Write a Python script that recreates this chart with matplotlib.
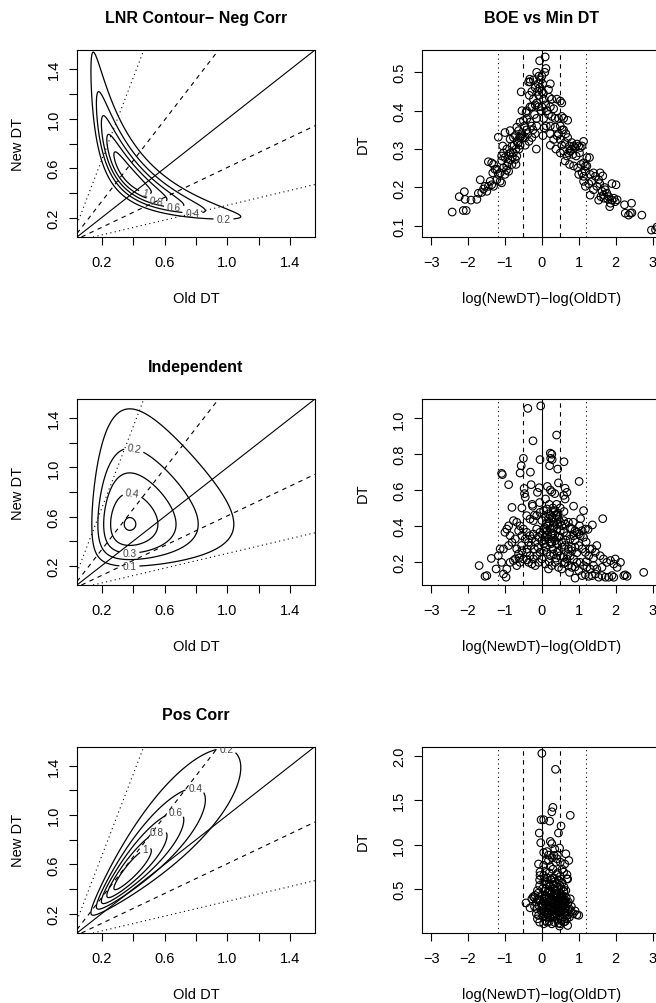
import numpy as np
import matplotlib
matplotlib.use("Agg")
import matplotlib.pyplot as plt

plt.rcParams['font.family'] = ['Liberation Sans', 'DejaVu Sans']

# Log-normal race parameters (log scale) used for the contour panels
mean_log_old = -0.97
mean_log_new = -0.62
sd_log = 0.56
panel_rho = [-0.9, 0.0, 0.9]
panel_titles = ["LNR Contour\u2212 Neg Corr", "Independent", "Pos Corr"]
panel_levels = [[0.2, 0.4, 0.6, 0.8, 1.0],
                [0.1, 0.2, 0.3, 0.4, 0.5],
                [0.2, 0.4, 0.6, 0.8, 1.0]]
# where the contour labels sit (Old DT, New DT)
label_spots = [
    [(0.475, 0.41), (0.548, 0.34), (0.66, 0.285), (0.777, 0.238), (0.975, 0.193)],
    [(0.402, 1.124), (0.392, 0.765), (0.377, 0.308), (0.377, 0.20)],
    [(0.99, 1.50), (0.794, 1.178), (0.673, 0.981), (0.565, 0.825), (0.485, 0.70)],
]
label_flat = [False, False, True]
ratio_logs = [0.0, 0.5, -0.5, 1.2, -1.2]

# Scatter: BOE = log(NewDT)-log(OldDT), DT = min DT
neg_boe = [-2.43, -2.13, -2.05, -2.24, -2.10, -2.08, -1.92, -1.76, -1.72, -1.67, -1.58, -1.54, -1.49, -1.63,
           -1.45, -1.36, -1.31, -1.33, -1.27, -1.40, -1.31, -1.18, -1.22, -1.13, -1.09, -1.09, -1.04, -1.06,
           -1.0, -1.45, -1.36, -1.18, -1.13, -1.22, -1.0, -1.04, -0.95, -0.90, -0.81, -0.86, -0.72, -0.68,
           -0.77, -0.90, -0.95, -0.81, -0.86, -1.0, -1.09, -0.92, -0.85, -0.75, -0.70, -0.65, -0.60, -0.55,
           -0.50, -0.45, -0.59, -0.45, -0.35, -0.27, -0.15, -0.18, -0.24, -0.14, -0.32, -0.41, -0.54, -0.60,
           -0.68, -0.72, -0.77, -0.86, -0.63, -0.59, -0.68, -0.50, -0.41, -0.14, 0.05, -0.54, -0.41, -0.32,
           -0.43, -0.27, -0.18, -0.09, 0.0, -0.23, -0.14, -0.34, -0.56, -0.27, -0.12, -0.18, -0.32, -0.36,
           -0.33, -0.23, -0.14, -0.06, 0.09, 0.11, -0.08, -0.03, 0.02, -0.05, 0.0, -0.08, 0.04, 0.05,
           0.10, 0.14, 0.18, 0.23, 0.27, 0.41, 0.50, 0.54, 0.23, 0.32, 0.18, 0.27, 0.36, 0.45,
           0.54, 0.59, 0.70, 0.23, 0.36, 0.50, 0.59, 0.23, 0.32, 0.41, 0.23, 0.50, 0.54, 0.59,
           0.50, 0.63, 0.70, 0.75, 0.81, 0.86, 0.90, 0.95, 1.0, 1.04, 1.09, 1.13, 1.02, 0.93,
           0.84, 0.77, 0.68, 0.63, 0.75, 0.86, 0.97, 1.06, 1.13, 1.18, 1.09, 1.0, 1.13, 1.18,
           1.22, 1.13, 1.18, 1.27, 1.29, 1.22, 1.31, 1.40, 1.49, 1.54, 1.58, 1.57, 1.63, 1.67,
           1.72, 1.76, 1.81, 1.60, 1.54, 1.86, 1.84, 1.90, 1.95, 1.99, 1.90, 2.01, 2.04, 2.24,
           2.26, 2.35, 2.40, 2.43, 2.44, 2.71, 2.97, 3.08, 3.12, 1.40, 1.45, 1.31, 1.36, 1.65,
           1.70, 1.78, 1.68, 0.55, 0.45, 0.38, 0.65, 0.80, 0.72, -0.02, 0.12, 0.20, 0.08, 0.0,
           -0.10, -0.20, -0.28, -0.38, -0.47, -0.62, -0.80, -0.96, -0.70, 0.03, 0.06]
neg_dt = [0.136, 0.14, 0.14, 0.176, 0.189, 0.169, 0.167, 0.169, 0.185, 0.22, 0.196, 0.203, 0.19, 0.187,
          0.267, 0.264, 0.26, 0.238, 0.247, 0.216, 0.203, 0.331, 0.22, 0.216, 0.212, 0.282, 0.29, 0.308,
          0.343, 0.203, 0.207, 0.234, 0.238, 0.247, 0.234, 0.251, 0.256, 0.242, 0.26, 0.273, 0.273, 0.282,
          0.29, 0.286, 0.30, 0.308, 0.326, 0.278, 0.27, 0.265, 0.29, 0.31, 0.30, 0.315, 0.33, 0.335,
          0.33, 0.33, 0.31, 0.31, 0.32, 0.33, 0.30, 0.34, 0.35, 0.36, 0.37, 0.35, 0.34, 0.33,
          0.32, 0.335, 0.33, 0.348, 0.348, 0.37, 0.357, 0.374, 0.379, 0.38, 0.38, 0.40, 0.40, 0.41,
          0.395, 0.41, 0.415, 0.41, 0.41, 0.43, 0.42, 0.44, 0.449, 0.45, 0.45, 0.46, 0.475, 0.475,
          0.482, 0.48, 0.50, 0.53, 0.54, 0.51, 0.49, 0.48, 0.47, 0.46, 0.45, 0.44, 0.445, 0.43,
          0.415, 0.40, 0.455, 0.47, 0.43, 0.43, 0.425, 0.42, 0.41, 0.405, 0.39, 0.385, 0.38, 0.38,
          0.385, 0.38, 0.375, 0.36, 0.357, 0.36, 0.35, 0.34, 0.325, 0.335, 0.31, 0.325, 0.31, 0.295,
          0.29, 0.317, 0.33, 0.308, 0.317, 0.308, 0.304, 0.313, 0.308, 0.304, 0.308, 0.32, 0.29, 0.282,
          0.286, 0.295, 0.282, 0.269, 0.26, 0.256, 0.251, 0.26, 0.264, 0.256, 0.238, 0.234, 0.229, 0.242,
          0.278, 0.216, 0.203, 0.21, 0.278, 0.256, 0.18, 0.194, 0.203, 0.22, 0.238, 0.21, 0.19, 0.18,
          0.194, 0.185, 0.176, 0.176, 0.167, 0.159, 0.15, 0.167, 0.172, 0.163, 0.21, 0.207, 0.168, 0.155,
          0.133, 0.128, 0.133, 0.159, 0.134, 0.128, 0.089, 0.09, 0.097, 0.238, 0.229, 0.234, 0.216, 0.23,
          0.20, 0.17, 0.172, 0.35, 0.34, 0.30, 0.34, 0.30, 0.29, 0.40, 0.36, 0.435, 0.50, 0.49,
          0.47, 0.39, 0.36, 0.34, 0.36, 0.30, 0.28, 0.245, 0.26, 0.335, 0.355]

ind_boe = [-0.03, -0.38, -0.24, 0.40, -0.50, -0.05, -0.56, -0.31, -0.59, -1.09, -1.07, -0.90, -0.81, 0.23,
           0.27, 0.24, 0.21, 0.28, 0.43, 0.60, 0.45, 1.01, -0.29, -0.48, -0.07, -0.12, -0.47, -0.45,
           -0.26, -0.25, -0.54, -0.06, 0.23, 0.27, 0.63, 0.68, 0.59, 0.63, 0.86, 1.13, 1.02, 1.37,
           1.65, -0.41, -0.32, -0.23, -0.14, -0.05, 0.05, 0.14, 0.18, 0.23, 0.27, 0.32, 0.36, 0.41,
           0.45, 0.50, 0.54, 0.59, 0.63, 0.72, 0.77, 0.81, 0.90, 0.95, 1.0, 1.04, 1.09, 1.13,
           1.18, 0.86, 0.77, 0.68, 0.59, 0.50, 0.41, 0.32, 0.23, 0.14, 0.05, -0.05, -0.14, -0.23,
           -0.32, -0.41, -0.50, -0.59, -0.63, -0.54, -0.45, -0.36, -0.27, -0.18, -0.09, 0.0, 0.09, 0.18,
           0.27, 0.36, 0.45, 0.54, 0.63, 0.72, 0.81, 0.90, 1.0, 1.09, 1.18, 1.27, 1.36, 1.45,
           1.49, 1.58, 1.67, 1.76, 1.86, 1.95, 2.04, 1.99, 2.13, 2.22, 2.26, 1.95, 1.90, 1.81,
           1.72, 1.63, 1.54, 1.45, 1.36, 1.27, 1.18, 1.09, 1.0, 0.90, 0.81, 0.72, 0.63, 0.54,
           0.45, 0.36, 0.27, 0.18, 0.09, 0.0, -0.09, -0.18, -0.27, -0.36, -0.50, -0.59, -0.68, -0.77,
           -0.86, -0.95, -1.04, -1.09, -1.13, -1.18, -1.04, -0.90, -0.81, -0.72, -0.68, -0.72, -0.63, -0.54,
           -0.41, -0.32, -0.23, -0.14, -0.05, 0.05, 0.14, 0.23, 0.32, 0.41, 0.50, 0.59, 0.68, 0.77,
           0.86, 0.95, 1.04, 1.13, 1.22, 1.31, 1.40, 1.49, 1.63, -0.97, -1.24, -1.49, -1.54, -1.70,
           -1.37, -1.0, -0.95, -0.90, -0.86, -0.77, -0.68, 2.31, 2.76, 0.10, 0.20, 0.30, 0.15, 0.25,
           0.35, 0.40, 0.05, 0.12, 0.30, 0.45, 0.20, 0.38, 0.55, 0.65, 0.80, 0.90, 0.95, 0.70,
           0.30, 0.20, 0.10, 0.40, 0.0, -0.10, -0.20, -0.30, -0.40, 0.60, 0.50, 0.15, 0.35, -0.20,
           0.25, 0.32, 0.42, 0.48, 0.12, 0.02, -0.55, -0.62, -0.40, 0.60, 0.75, 0.90, 1.20, 1.30,
           0.85, 1.05, 1.20, 1.40, 1.25, 0.08, 0.18, 0.28, 0.38, 0.22, 0.33, 0.44, 0.07, 0.16]
ind_dt = [1.07, 1.056, 0.875, 0.907, 0.777, 0.77, 0.736, 0.70, 0.695, 0.693, 0.686, 0.63, 0.503, 0.806,
          0.80, 0.777, 0.736, 0.77, 0.717, 0.758, 0.64, 0.648, 0.63, 0.609, 0.613, 0.587, 0.58, 0.56,
          0.52, 0.51, 0.50, 0.53, 0.60, 0.59, 0.61, 0.587, 0.57, 0.55, 0.51, 0.485, 0.40, 0.405,
          0.44, 0.457, 0.438, 0.429, 0.457, 0.475, 0.485, 0.494, 0.466, 0.457, 0.447, 0.475, 0.485, 0.457,
          0.438, 0.42, 0.40, 0.429, 0.41, 0.42, 0.39, 0.382, 0.373, 0.364, 0.354, 0.345, 0.373, 0.336,
          0.382, 0.345, 0.327, 0.345, 0.364, 0.373, 0.382, 0.39, 0.382, 0.373, 0.382, 0.364, 0.382, 0.354,
          0.345, 0.364, 0.382, 0.40, 0.373, 0.345, 0.327, 0.308, 0.327, 0.308, 0.336, 0.317, 0.336, 0.327,
          0.308, 0.317, 0.336, 0.308, 0.29, 0.271, 0.261, 0.28, 0.29, 0.271, 0.252, 0.233, 0.271, 0.252,
          0.29, 0.233, 0.215, 0.196, 0.206, 0.187, 0.168, 0.215, 0.196, 0.122, 0.126, 0.113, 0.122, 0.113,
          0.113, 0.122, 0.113, 0.131, 0.122, 0.118, 0.127, 0.122, 0.15, 0.108, 0.168, 0.178, 0.196, 0.159,
          0.168, 0.196, 0.178, 0.159, 0.187, 0.215, 0.196, 0.178, 0.187, 0.196, 0.215, 0.196, 0.178, 0.206,
          0.196, 0.159, 0.131, 0.196, 0.271, 0.233, 0.271, 0.29, 0.308, 0.327, 0.271, 0.215, 0.243, 0.261,
          0.252, 0.233, 0.215, 0.233, 0.252, 0.261, 0.252, 0.233, 0.243, 0.252, 0.233, 0.224, 0.215, 0.233,
          0.215, 0.196, 0.196, 0.178, 0.168, 0.159, 0.178, 0.159, 0.168, 0.113, 0.159, 0.122, 0.118, 0.178,
          0.218, 0.364, 0.382, 0.40, 0.345, 0.429, 0.42, 0.118, 0.14, 0.45, 0.42, 0.40, 0.35, 0.30,
          0.35, 0.30, 0.30, 0.28, 0.27, 0.26, 0.20, 0.22, 0.28, 0.32, 0.28, 0.32, 0.25, 0.24,
          0.50, 0.52, 0.55, 0.52, 0.43, 0.28, 0.27, 0.29, 0.27, 0.48, 0.50, 0.62, 0.58, 0.46,
          0.35, 0.33, 0.41, 0.34, 0.41, 0.35, 0.29, 0.22, 0.21, 0.19, 0.14, 0.17, 0.20, 0.27,
          0.42, 0.44, 0.31, 0.22, 0.38, 0.39, 0.44, 0.36, 0.46, 0.31, 0.42, 0.47, 0.32, 0.40]

pos_boe = [0.0, 0.37, 0.30, 0.27, 0.77, -0.02, 0.05, 0.21, 0.52, 0.45, -0.07, -0.03, 0.48, 0.23,
           0.27, 0.05, 0.14, 0.65, 0.73, 0.62, -0.09, -0.05, -0.06, 0.70, -0.23, -0.20, -0.43, -0.32,
           0.95, 1.0, 0.05, 0.48, 0.70, -0.12, -0.27, -0.18, -0.14, -0.09, -0.06, 0.63, 0.72, 0.77,
           0.68, 0.59, 0.50, 0.27, 0.14, 0.68, 0.59, 0.50, 0.41, 0.33, 0.18, 0.05, -0.05, -0.06,
           -0.12, -0.15, 0.10, 0.20, 0.30, 0.40, 0.50, 0.15, 0.25, 0.35, 0.45, 0.55, 0.05, 0.12,
           0.22, 0.32, 0.42, 0.52, 0.60, 0.02, 0.08, 0.18, 0.28, 0.38, 0.48, 0.58, 0.66, 0.00,
           0.10, 0.20, 0.30, 0.40, 0.50, 0.60, 0.70, -0.05, 0.05, 0.15, 0.25, 0.35, 0.45, 0.55,
           0.65, 0.75, -0.08, 0.02, 0.12, 0.22, 0.32, 0.42, 0.52, 0.62, 0.72, -0.02, 0.08, 0.18,
           0.28, 0.38, 0.48, 0.58, 0.68, 0.03, 0.13, 0.23, 0.33, 0.43, 0.53, 0.63, 0.20, 0.35,
           0.45, 0.10, 0.25, 0.35, 0.15, 0.45, 0.30, 0.40, 0.20, 0.10, 0.50, 0.27, 0.37, 0.47,
           0.17, 0.57, 0.33, 0.43, 0.23, 0.38, 0.28, 0.18, 0.12, 0.05, 0.60, 0.65, -0.10, -0.12,
           0.36, 0.26, 0.16, 0.06, 0.44, 0.54, 0.62, 0.70, 0.78, 0.80, 0.85, 0.90, -0.15, -0.20,
           0.35, 0.42, 0.55, 0.68, 0.62, 0.75,
           0.07, 0.17, 0.27, 0.37, 0.47, 0.57, 0.11, 0.21, 0.31, 0.41, 0.51, 0.61, 0.04, 0.14,
           0.24, 0.34, 0.44, 0.54, 0.64, 0.09, 0.19, 0.29, 0.39, 0.49, 0.59, 0.01, 0.16, 0.26,
           0.36, 0.46, 0.56, 0.13, 0.23, 0.33, 0.43, 0.53, 0.06, 0.31, 0.41, 0.21]
pos_dt = [2.03, 1.85, 1.42, 1.37, 1.33, 1.28, 1.28, 1.265, 1.21, 1.13, 1.13, 1.02, 0.96, 1.035,
          1.01, 0.91, 0.92, 0.895, 0.82, 0.78, 0.78, 0.69, 0.60, 0.61, 0.41, 0.40, 0.34, 0.285,
          0.206, 0.20, 0.104, 0.078, 0.085, 0.16, 0.386, 0.424, 0.274, 0.198, 0.123, 0.274, 0.349, 0.386,
          0.198, 0.123, 0.104, 0.104, 0.123, 0.613, 0.688, 0.801, 0.839, 0.877, 0.82, 0.764, 0.65, 0.537,
          0.48, 0.349, 0.70, 0.68, 0.72, 0.66, 0.64, 0.62, 0.60, 0.58, 0.60, 0.57, 0.58, 0.55,
          0.53, 0.55, 0.52, 0.50, 0.47, 0.50, 0.47, 0.48, 0.46, 0.48, 0.45, 0.42, 0.40, 0.43,
          0.42, 0.40, 0.42, 0.40, 0.38, 0.36, 0.33, 0.37, 0.36, 0.35, 0.37, 0.34, 0.33, 0.31,
          0.29, 0.27, 0.31, 0.30, 0.29, 0.31, 0.28, 0.27, 0.25, 0.23, 0.21, 0.25, 0.24, 0.23,
          0.25, 0.22, 0.20, 0.18, 0.16, 0.19, 0.18, 0.17, 0.19, 0.16, 0.14, 0.13, 0.13, 0.12,
          0.11, 0.14, 0.44, 0.40, 0.45, 0.38, 0.33, 0.30, 0.28, 0.33, 0.28, 0.21, 0.26, 0.23,
          0.20, 0.34, 0.62, 0.68, 0.75, 0.80, 0.85, 0.88, 0.82, 0.65, 0.52, 0.48, 0.45, 0.38,
          0.45, 0.39, 0.26, 0.40, 0.36, 0.42, 0.38, 0.27, 0.24, 0.30, 0.22, 0.25, 0.22, 0.30,
          0.95, 0.88, 0.72, 0.66, 0.20, 0.18,
          0.39, 0.35, 0.29, 0.36, 0.31, 0.26, 0.50, 0.46, 0.50, 0.45, 0.41, 0.34, 0.27, 0.22,
          0.26, 0.21, 0.25, 0.29, 0.35, 0.59, 0.55, 0.62, 0.56, 0.54, 0.47, 0.33, 0.31, 0.34,
          0.43, 0.28, 0.37, 0.40, 0.48, 0.44, 0.34, 0.32, 0.22, 0.18, 0.24, 0.36]

scatter_sets = [(neg_boe, neg_dt, "BOE vs Min DT"),
                (ind_boe, ind_dt, ""),
                (pos_boe, pos_dt, "")]
dt_ticks = [[0.1, 0.2, 0.3, 0.4, 0.5],
            [0.2, 0.4, 0.6, 0.8, 1.0],
            [0.5, 1.0, 1.5, 2.0]]

grid_ticks = [0.2, 0.4, 0.6, 0.8, 1.0, 1.2, 1.4]
grid_labels = ["0.2", "", "0.6", "", "1.0", "", "1.4"]
boe_ticks = [-3, -2, -1, 0, 1, 2, 3]


def lnr_density(old, new, rho):
    a = (np.log(old) - mean_log_old) / sd_log
    b = (np.log(new) - mean_log_new) / sd_log
    q = (a**2 - 2 * rho * a * b + b**2) / (1 - rho**2)
    return np.exp(-q / 2) / (2 * np.pi * sd_log**2 * np.sqrt(1 - rho**2))


def style_axes(ax):
    for s in ax.spines.values():
        s.set_linewidth(0.8)
    ax.tick_params(direction="out", length=5.8, width=0.8, labelsize=10.5)
    ax.tick_params(axis="x", pad=7.5)
    ax.tick_params(axis="y", pad=6)


fig = plt.figure(figsize=(6.56, 10.04), dpi=100)
W, H = 656.0, 1004.0
rows_px = [(51, 238), (400, 586), (747.5, 934)]
left_px = (77, 315)
right_px = (422.3, 661.4)

lim = (0.044, 1.556)
g = np.linspace(lim[0], lim[1], 400)
GX, GY = np.meshgrid(g, g)

for i, (top, bot) in enumerate(rows_px):
    # contour panel
    ax = fig.add_axes([left_px[0] / W, 1 - bot / H, (left_px[1] - left_px[0]) / W, (bot - top) / H])
    Z = lnr_density(GX, GY, panel_rho[i])
    cs = ax.contour(GX, GY, Z, levels=panel_levels[i], colors="black", linewidths=0.9)
    texts = ax.clabel(cs, inline=True, fontsize=7.3, colors="#444444", fmt=lambda v: f"{v:g}",
                      manual=label_spots[i], inline_spacing=3)
    if label_flat[i]:
        for t in texts:
            t.set_rotation(0)
    for k in ratio_logs:
        ls = "-" if k == 0 else ((0, (4, 4)) if abs(k) == 0.5 else (0, (1, 3)))
        ax.axline((0, 0), slope=np.exp(k), color="black", lw=0.8, linestyle=ls)
    ax.set_xlim(lim)
    ax.set_ylim(lim)
    ax.set_xticks(grid_ticks)
    ax.set_xticklabels(grid_labels)
    ax.set_yticks(grid_ticks)
    ax.set_yticklabels(grid_labels, rotation=90, va="center")
    style_axes(ax)
    ax.set_title(panel_titles[i], fontsize=11.5, fontweight="bold", pad=20)
    ax.set_xlabel("Old DT", fontsize=10.5)
    ax.set_ylabel("New DT", fontsize=10.5)
    ax.xaxis.set_label_coords(0.5, -0.29)
    ax.yaxis.set_label_coords(-0.22, 0.5)

    # scatter panel
    bx, dt, title = scatter_sets[i]
    ax2 = fig.add_axes([right_px[0] / W, 1 - bot / H, (right_px[1] - right_px[0]) / W, (bot - top) / H])
    ax2.scatter(bx, dt, s=30, facecolors="none", edgecolors="black", linewidths=0.8)
    ax2.axvline(0, color="black", lw=0.8)
    for k in [-0.5, 0.5]:
        ax2.axvline(k, color="black", lw=0.8, linestyle=(0, (4, 4)))
    for k in [-1.2, 1.2]:
        ax2.axvline(k, color="black", lw=0.8, linestyle=(0, (1, 3)))
    lo, hi = min(dt), max(dt)
    pad = 0.04 * (hi - lo)
    ax2.set_ylim(lo - pad, hi + pad)
    ax2.set_xlim(-3.24, 3.24)
    ax2.set_xticks(boe_ticks)
    ax2.set_yticks(dt_ticks[i])
    ax2.set_yticklabels([f"{t:.1f}" for t in dt_ticks[i]], rotation=90, va="center")
    style_axes(ax2)
    if title:
        ax2.set_title(title, fontsize=11.5, fontweight="bold", pad=20)
    ax2.set_xlabel("log(NewDT)\u2212log(OldDT)", fontsize=10.5)
    ax2.set_ylabel("DT", fontsize=10.5)
    ax2.xaxis.set_label_coords(0.5, -0.29)
    ax2.yaxis.set_label_coords(-0.22, 0.5)

fig.savefig("out.png", dpi=100)
